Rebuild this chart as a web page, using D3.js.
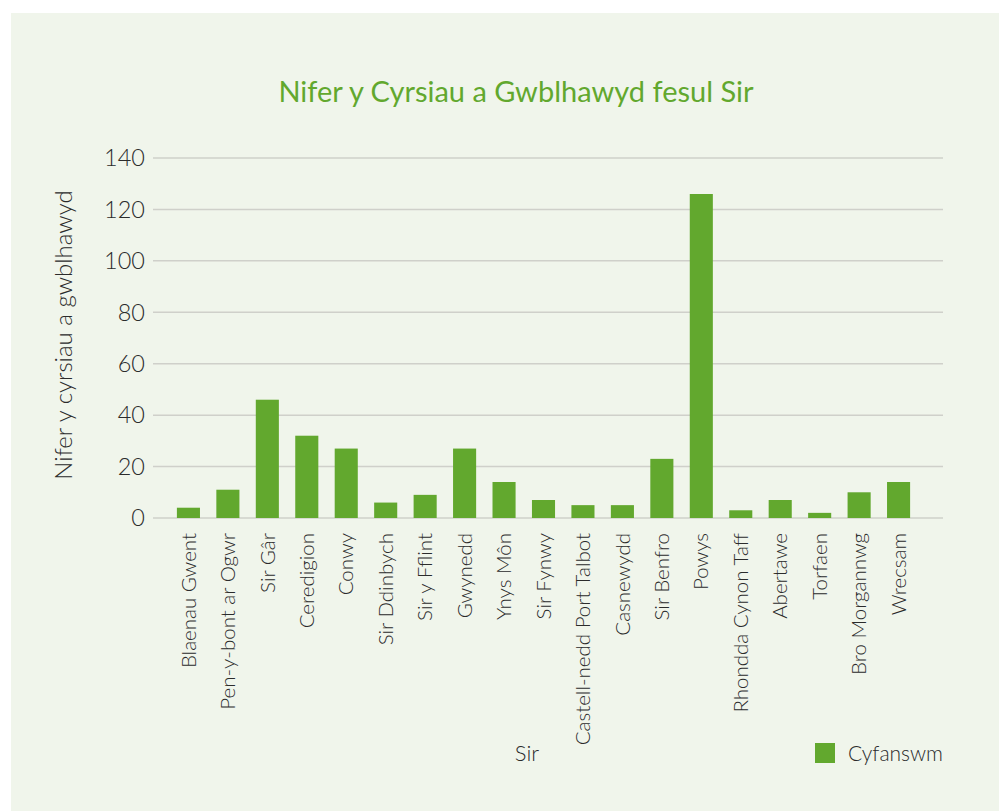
<!DOCTYPE html>
<html>
<head>
<meta charset="utf-8">
<script src="https://cdn.jsdelivr.net/npm/d3@7"></script>
<style>
  body { margin: 0; background: #fff; }
  svg text { font-family: Lato, "Open Sans", sans-serif; }
</style>
</head>
<body>
<script>
// data
const siroedd = ['Blaenau Gwent', 'Pen-y-bont ar Ogwr', 'Sir Gâr', 'Ceredigion', 'Conwy',
  'Sir Ddinbych', 'Sir y Fflint', 'Gwynedd', 'Ynys Môn', 'Sir Fynwy',
  'Castell-nedd Port Talbot', 'Casnewydd', 'Sir Benfro', 'Powys', 'Rhondda Cynon Taff',
  'Abertawe', 'Torfaen', 'Bro Morgannwg', 'Wrecsam'];
const cyfanswm = [4, 11, 46, 32, 27, 6, 9, 27, 14, 7, 5, 5, 23, 126, 3, 7, 2, 10, 14];
const yTicks = [0, 20, 40, 60, 80, 100, 120, 140];

const W = 999, H = 811;
const green = '#62a82e';
const textCol = '#2b2b2b';

const svg = d3.select('body').append('svg')
  .attr('width', W)
  .attr('height', H);

// background panel
svg.append('rect')
  .attr('x', 11).attr('y', 13)
  .attr('width', W - 11).attr('height', H - 13)
  .attr('fill', '#f0f5eb');

const plot = { left: 153, right: 943, top: 158, bottom: 518 };

const x = d3.scaleBand()
  .domain(siroedd)
  .range([169, 918])
  .paddingInner(0.415)
  .paddingOuter(0.2);

const y = d3.scaleLinear()
  .domain([0, 140])
  .range([plot.bottom, plot.top]);

// gridlines
svg.append('g')
  .selectAll('line')
  .data(yTicks)
  .enter().append('line')
  .attr('x1', plot.left).attr('x2', plot.right)
  .attr('y1', d => y(d)).attr('y2', d => y(d))
  .attr('stroke', '#cfd0ca')
  .attr('stroke-width', 1.5);

// y tick labels
svg.append('g')
  .selectAll('text')
  .data(yTicks)
  .enter().append('text')
  .attr('x', 145)
  .attr('y', d => y(d))
  .attr('dy', '0.35em')
  .attr('text-anchor', 'end')
  .attr('font-size', 23.5)
  .attr('font-weight', 300)
  .attr('fill', textCol)
  .text(d => d);

// bars
svg.append('g')
  .selectAll('rect')
  .data(siroedd)
  .enter().append('rect')
  .attr('x', d => x(d))
  .attr('width', x.bandwidth())
  .attr('y', (d, i) => y(cyfanswm[i]))
  .attr('height', (d, i) => y(0) - y(cyfanswm[i]))
  .attr('fill', green);

// x labels, rotated
svg.append('g')
  .selectAll('text')
  .data(siroedd)
  .enter().append('text')
  .attr('transform', d => `translate(${x(d) + x.bandwidth() / 2},533) rotate(-90)`)
  .attr('dy', '0.35em')
  .attr('text-anchor', 'end')
  .attr('font-size', 20.5)
  .attr('font-weight', 300)
  .attr('fill', textCol)
  .text(d => d);

// title
svg.append('text')
  .attr('x', 516)
  .attr('y', 102)
  .attr('text-anchor', 'middle')
  .attr('font-size', 29)
  .attr('fill', green)
  .text('Nifer y Cyrsiau a Gwblhawyd fesul Sir');

// axis titles
svg.append('text')
  .attr('transform', 'translate(64,335) rotate(-90)')
  .attr('dy', '0.35em')
  .attr('text-anchor', 'middle')
  .attr('font-size', 24)
  .attr('font-weight', 300)
  .attr('fill', textCol)
  .text('Nifer y cyrsiau a gwblhawyd');

svg.append('text')
  .attr('x', 527)
  .attr('y', 753)
  .attr('dy', '0.35em')
  .attr('text-anchor', 'middle')
  .attr('font-size', 22)
  .attr('font-weight', 300)
  .attr('fill', textCol)
  .text('Sir');

// legend
svg.append('rect')
  .attr('x', 815).attr('y', 743)
  .attr('width', 20).attr('height', 20)
  .attr('fill', green);

svg.append('text')
  .attr('x', 848)
  .attr('y', 754)
  .attr('dy', '0.35em')
  .attr('font-size', 21)
  .attr('font-weight', 300)
  .attr('fill', textCol)
  .text('Cyfanswm');
</script>
</body>
</html>
